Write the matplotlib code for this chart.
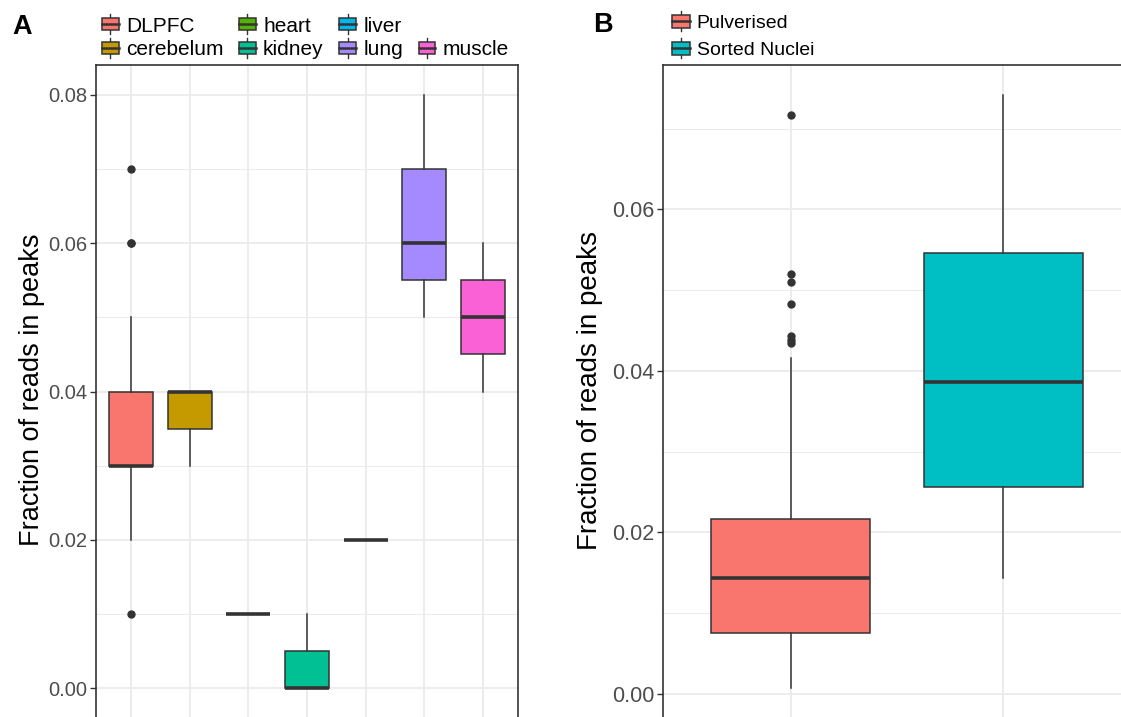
import matplotlib.pyplot as plt
from matplotlib.patches import Rectangle, Patch
from matplotlib.lines import Line2D
from matplotlib.legend_handler import HandlerBase
from matplotlib.ticker import MultipleLocator

plt.rcParams['font.family'] = ['Liberation Sans', 'DejaVu Sans']

# panel A: FRiP by tissue
tissues = ['DLPFC', 'cerebelum', 'heart', 'kidney', 'liver', 'lung', 'muscle']
tissue_colors = ['#F8766D', '#C49A00', '#53B400', '#00C094', '#00B6EB', '#A58AFF', '#FB61D7']
tissue_q1 = [0.030, 0.035, 0.010, 0.000, 0.020, 0.055, 0.045]
tissue_med = [0.030, 0.040, 0.010, 0.000, 0.020, 0.060, 0.050]
tissue_q3 = [0.040, 0.040, 0.010, 0.005, 0.020, 0.070, 0.055]
tissue_lo = [0.020, 0.030, 0.010, 0.000, 0.020, 0.050, 0.040]
tissue_hi = [0.050, 0.040, 0.010, 0.010, 0.020, 0.080, 0.060]
tissue_out = [[0.010, 0.060, 0.060, 0.070], [], [], [], [], [], []]

# panel B: FRiP by preparation
preps = ['Pulverised', 'Sorted Nuclei']
prep_colors = ['#F8766D', '#00BFC4']
prep_q1 = [0.0075, 0.0256]
prep_med = [0.0143, 0.0386]
prep_q3 = [0.0217, 0.0546]
prep_lo = [0.0007, 0.0143]
prep_hi = [0.0416, 0.0742]
prep_out = [[0.0717, 0.0520, 0.0510, 0.0483, 0.0443, 0.0438, 0.0435], []]

INK = '#333333'
GRID = '#EBEBEB'


class BoxKey(HandlerBase):
    """ggplot-style boxplot legend key."""
    def __init__(self, box_frac=0.6, **kw):
        super().__init__(**kw)
        self.box_frac = box_frac

    def create_artists(self, legend, orig_handle, xdescent, ydescent,
                       width, height, fontsize, trans):
        x0, y0 = -xdescent, -ydescent
        face = orig_handle.get_facecolor()
        cx = x0 + width / 2
        cy = y0 + height / 2
        half = self.box_frac * height / 2
        b0, b1 = cy - half, cy + half
        art = [
            Line2D([cx, cx], [y0 - 0.1 * height, b0], color=INK, lw=1.0, transform=trans),
            Line2D([cx, cx], [b1, y0 + 1.1 * height], color=INK, lw=1.0, transform=trans),
            Rectangle((x0, b0), width, b1 - b0, facecolor=face, edgecolor=INK,
                      lw=1.1, transform=trans),
            Line2D([x0, x0 + width], [cy, cy], color=INK, lw=1.8, transform=trans),
        ]
        return art


def box_stats(q1, med, q3, lo, hi, out):
    return [dict(q1=a, med=b, q3=c, whislo=d, whishi=e, fliers=f)
            for a, b, c, d, e, f in zip(q1, med, q3, lo, hi, out)]


def draw_boxes(ax, stats, colors, tick_size):
    pos = list(range(1, len(stats) + 1))
    bp = ax.bxp(stats, positions=pos, widths=0.75, patch_artist=True,
                showcaps=False,
                boxprops=dict(edgecolor=INK, linewidth=1.1),
                medianprops=dict(color=INK, linewidth=2.6, solid_capstyle='butt'),
                whiskerprops=dict(color=INK, linewidth=1.1),
                flierprops=dict(marker='o', markerfacecolor=INK,
                                markeredgecolor=INK, markersize=5))
    for patch, col in zip(bp['boxes'], colors):
        patch.set_facecolor(col)
    ax.set_xlim(0.4, len(stats) + 0.6)
    ax.set_xticks(pos)
    ax.set_xticklabels([])
    ax.yaxis.set_major_locator(MultipleLocator(0.02))
    ax.yaxis.set_minor_locator(MultipleLocator(0.01))
    ax.yaxis.set_major_formatter(lambda v, p: f'{v:.2f}')
    ax.set_axisbelow(True)
    ax.grid(which='major', color=GRID, lw=1.3)
    ax.grid(which='minor', axis='y', color=GRID, lw=0.7)
    ax.tick_params(which='major', length=4, width=1, color=INK,
                   labelcolor='#4D4D4D', labelsize=tick_size, pad=2)
    ax.tick_params(which='minor', length=0)
    for s in ax.spines.values():
        s.set_color(INK)
        s.set_linewidth(1.2)


W, H = 1121, 717
fig = plt.figure(figsize=(W / 100, H / 100), dpi=100)


def px_axes(left, right, top, bottom):
    return fig.add_axes([left / W, 1 - bottom / H, (right - left) / W, (bottom - top) / H])


axA = px_axes(96, 518, 65, 718)
draw_boxes(axA, box_stats(tissue_q1, tissue_med, tissue_q3, tissue_lo, tissue_hi, tissue_out),
           tissue_colors, 14.5)
axA.set_ylim(-0.004, 0.084)

axB = px_axes(663, 1131, 65, 718)
draw_boxes(axB, box_stats(prep_q1, prep_med, prep_q3, prep_lo, prep_hi, prep_out),
           prep_colors, 15.5)
axB.set_ylim(-0.003, 0.0779)

fig.text(32 / W, 1 - 390 / H, 'Fraction of reads in peaks', rotation=90,
         ha='center', va='center', fontsize=19.5)
fig.text(590 / W, 1 - 391 / H, 'Fraction of reads in peaks', rotation=90,
         ha='center', va='center', fontsize=20)

fig.text(22 / W, 1 - 27 / H, 'A', fontsize=19.5, fontweight='bold', ha='center', va='center')
fig.text(603 / W, 1 - 25 / H, 'B', fontsize=19.5, fontweight='bold', ha='center', va='center')

# tissue legend: two rows, muscle sits alone under an empty slot
handles_a = [Patch(facecolor=c, label=t) for c, t in zip(tissue_colors, tissues)]
handles_a.insert(6, Line2D([], [], linestyle='none', label=' '))
fig.legend(handles=handles_a, loc='upper left', ncol=4,
           bbox_to_anchor=(102 / W, 1 - 16 / H), bbox_transform=fig.transFigure,
           frameon=False, fontsize=15, handler_map={Patch: BoxKey(0.72)},
           handlelength=0.8, handleheight=0.85, handletextpad=0.35,
           columnspacing=0.75, labelspacing=0.2, borderpad=0, borderaxespad=0)

handles_b = [Patch(facecolor=c, label=t) for c, t in zip(prep_colors, preps)]
fig.legend(handles=handles_b, loc='upper left', ncol=1,
           bbox_to_anchor=(672 / W, 1 - 13 / H), bbox_transform=fig.transFigure,
           frameon=False, fontsize=14, handler_map={Patch: BoxKey(0.78)},
           handlelength=0.95, handleheight=0.95, handletextpad=0.32,
           labelspacing=0.4, borderpad=0, borderaxespad=0)

fig.savefig('out.png', dpi=100)
